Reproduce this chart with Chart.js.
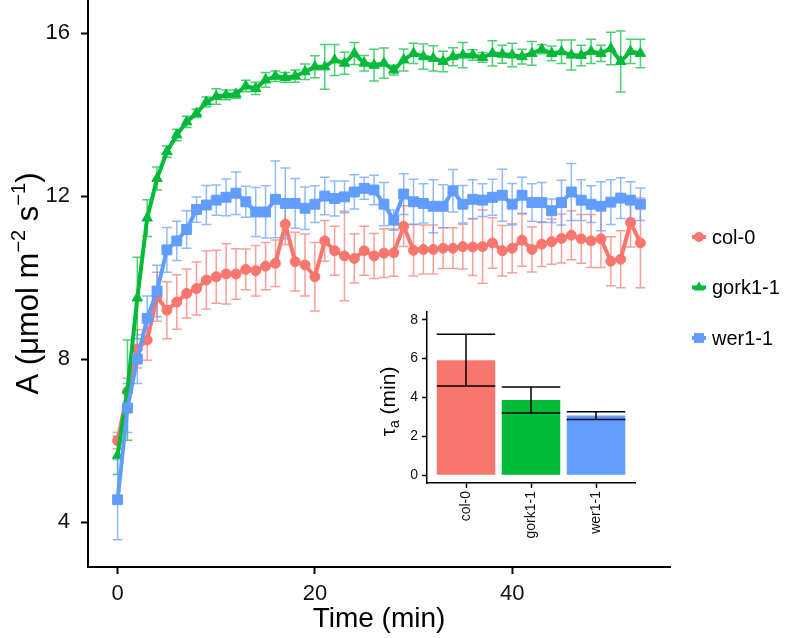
<!DOCTYPE html>
<html>
<head>
<meta charset="utf-8">
<script src="https://cdn.jsdelivr.net/npm/chart.js@4.4.0/dist/chart.umd.min.js"></script>
<style>
  html, body { margin: 0; padding: 0; background: #fff; }
  #wrap { position: relative; width: 789px; height: 638px; }
  #main { position: absolute; left: 0; top: 0; }
  #inset { position: absolute; left: 355px; top: 290px; }
</style>
</head>
<body>
<div id="wrap">
  <canvas id="main" width="789" height="638"></canvas>
  <canvas id="inset" width="290" height="270"></canvas>
</div>
<script>
const FONT = "'Liberation Sans', Arial, sans-serif";

// time points (min)
const minutes = [0,1,2,3,4,5,6,7,8,9,10,11,12,13,14,15,16,17,18,19,20,21,22,23,24,25,26,
  27,28,29,30,31,32,33,34,35,36,37,38,39,40,41,42,43,44,45,46,47,48,49,50,51,52,53];

const col0 = [6.0,7.2,8.25,8.47,9.53,9.2,9.4,9.61,9.73,9.94,10.02,10.09,10.09,10.2,10.17,10.28,10.35,
  11.31,10.39,10.31,10.02,10.9,10.66,10.53,10.47,10.66,10.53,10.6,10.61,11.26,10.67,10.69,10.69,
  10.72,10.72,10.76,10.75,10.76,10.85,10.66,10.72,10.92,10.69,10.82,10.88,10.96,11.04,10.95,10.9,
  10.95,10.4,10.45,11.35,10.85];
const col0Err = [0.2,0.33,0.47,0.5,0.6,0.7,0.67,0.6,0.65,0.71,0.65,0.74,0.62,0.5,0.62,0.58,0.57,
  0.5,0.72,0.76,0.84,0.5,0.6,1.1,0.6,0.6,0.55,0.6,0.58,0.5,0.63,0.6,0.6,0.5,0.5,0.55,0.7,0.9,0.62,
  0.62,0.6,0.64,0.55,0.55,0.55,0.6,0.6,0.6,0.65,0.7,0.6,0.7,0.6,1.1];

const gork = [5.64,7.24,9.5,11.46,12.43,13.09,13.5,13.82,14.03,14.31,14.44,14.48,14.5,14.7,14.64,
  14.85,14.94,14.91,14.94,15.05,15.17,15.17,15.34,15.26,15.5,15.26,15.21,15.26,15.09,15.34,15.5,
  15.42,15.38,15.3,15.42,15.46,15.46,15.4,15.5,15.48,15.46,15.42,15.5,15.6,15.5,15.54,15.46,15.45,
  15.55,15.5,15.62,15.3,15.55,15.5];
const gorkErr = [0.47,1.23,1.0,0.45,0.28,0.14,0.14,0.14,0.1,0.12,0.19,0.12,0.1,0.14,0.15,0.18,0.13,
  0.12,0.15,0.19,0.27,0.55,0.38,0.27,0.27,0.19,0.39,0.37,0.12,0.27,0.25,0.31,0.31,0.25,0.22,0.31,
  0.13,0.12,0.31,0.22,0.29,0.18,0.29,0.11,0.18,0.29,0.37,0.25,0.3,0.2,0.4,0.75,0.3,0.35];

const wer = [4.55,6.8,8.0,9.0,9.67,10.68,10.9,11.18,11.67,11.78,11.9,11.97,12.07,11.86,11.61,11.61,
  11.92,11.82,11.82,11.7,11.8,12.0,11.94,11.98,12.1,12.19,12.15,11.8,11.41,12.05,11.86,11.82,11.75,
  11.75,12.13,11.8,11.92,11.9,11.97,12.02,11.8,12.02,11.84,11.84,11.64,11.84,12.1,11.9,11.8,11.75,
  11.85,11.95,11.9,11.8];
const werErr = [0.98,0.6,0.6,0.55,0.63,0.55,0.48,0.46,0.31,0.48,0.37,0.45,0.52,0.38,0.6,0.64,0.94,
  0.87,0.61,0.52,0.45,0.46,0.43,0.39,0.42,0.27,0.36,0.53,0.25,0.5,0.55,0.48,0.65,0.53,0.52,0.46,0.48,
  0.4,0.44,0.64,0.51,0.44,0.46,0.49,0.29,0.55,0.7,0.5,0.45,0.6,0.55,0.5,0.45,0.4];

const xTicks = [0, 20, 40];
const yTicks = [4, 8, 12, 16];

// inset: tau_a per genotype
const tauLabels = ['col-0', 'gork1-1', 'wer1-1'];
const tauMean = [5.92, 3.87, 3.07];
const tauErr = [1.33, 0.67, 0.2];
const tauTicks = [0, 2, 4, 6, 8];

const RED = '#F8766D', GREEN = '#00BA38', BLUE = '#619CFF';

function rgba(hex, a) {
  const n = parseInt(hex.slice(1), 16);
  return `rgba(${n >> 16},${(n >> 8) & 255},${n & 255},${a})`;
}

// text with super/subscripts, rotated to read bottom-up
function drawRich(ctx, parts, cx, cy, size) {
  const small = Math.round(size * 0.66);
  ctx.save();
  ctx.translate(cx, cy);
  ctx.rotate(-Math.PI / 2);
  let total = 0;
  const widths = parts.map(([t, k]) => {
    ctx.font = (k ? small : size) + 'px ' + FONT;
    const w = ctx.measureText(t).width;
    total += w;
    return w;
  });
  let x = -total / 2;
  ctx.textAlign = 'left';
  ctx.textBaseline = 'alphabetic';
  ctx.fillStyle = '#000';
  const base = size * 0.36;
  parts.forEach(([t, k], i) => {
    ctx.font = (k ? small : size) + 'px ' + FONT;
    const dy = k === 1 ? -size * 0.42 : k === -1 ? size * 0.22 : 0;
    ctx.fillText(t, x, base + dy);
    x += widths[i];
  });
  ctx.restore();
}

function series(label, values, err, color, style, radius, order) {
  return {
    label: label,
    err: err,
    data: values.map((v, i) => ({x: minutes[i], y: v})),
    borderColor: color,
    backgroundColor: color,
    borderWidth: 4,
    pointStyle: style,
    pointRadius: radius,
    pointBorderWidth: 1,
    pointBorderColor: color,
    pointBackgroundColor: color,
    tension: 0,
    order: order
  };
}

const errorBars = {
  id: 'errorBars',
  beforeDatasetsDraw(chart) {
    const ctx = chart.ctx;
    const xs = chart.scales.x, ys = chart.scales.y;
    const half = xs.getPixelForValue(0.5) - xs.getPixelForValue(0);
    ctx.save();
    ctx.lineWidth = 1.5;
    chart.data.datasets.forEach(ds => {
      ctx.strokeStyle = rgba(ds.borderColor, 0.7);
      ds.data.forEach((p, i) => {
        const x = xs.getPixelForValue(p.x);
        const y1 = ys.getPixelForValue(p.y + ds.err[i]);
        const y2 = ys.getPixelForValue(p.y - ds.err[i]);
        ctx.beginPath();
        ctx.moveTo(x, y1); ctx.lineTo(x, y2);
        ctx.moveTo(x - half, y1); ctx.lineTo(x + half, y1);
        ctx.moveTo(x - half, y2); ctx.lineTo(x + half, y2);
        ctx.stroke();
      });
    });
    ctx.restore();
  }
};

const sideLegend = {
  id: 'sideLegend',
  afterDraw(chart) {
    const ctx = chart.ctx;
    const ca = chart.chartArea;
    // y axis title
    drawRich(ctx, [['A (\u03bcmol m', 0], ['\u22122', 1], [' s', 0], ['\u22121', 1], [')', 0]],
      27, (ca.top + ca.bottom) / 2, 31);
    // legend
    ctx.save();
    chart.data.datasets.forEach((ds, i) => {
      const y = 237 + i * 50.5;
      const x = 699;
      ctx.strokeStyle = ds.borderColor;
      ctx.fillStyle = ds.borderColor;
      ctx.lineWidth = 4;
      ctx.beginPath();
      ctx.moveTo(x - 7, y); ctx.lineTo(x + 7, y);
      ctx.stroke();
      Chart.helpers.drawPoint(ctx, {pointStyle: ds.pointStyle, radius: ds.pointRadius, rotation: 0, borderWidth: 0}, x, y);
      ctx.fillStyle = '#000';
      ctx.font = '20px ' + FONT;
      ctx.textAlign = 'left';
      ctx.textBaseline = 'middle';
      ctx.fillText(ds.label, 712, y + 1);
    });
    ctx.restore();
  }
};

const axisStyle = {
  grid: {display: true, drawOnChartArea: false, drawTicks: true, tickLength: 7, tickWidth: 2, tickColor: '#000'},
  border: {display: true, color: '#000', width: 2}
};

new Chart(document.getElementById('main'), {
  type: 'line',
  data: {
    datasets: [
      series('col-0', col0, col0Err, RED, 'circle', 5, 3),
      series('gork1-1', gork, gorkErr, GREEN, 'triangle', 6, 2),
      series('wer1-1', wer, werErr, BLUE, 'rect', 7, 1)
    ]
  },
  options: {
    responsive: false,
    animation: false,
    layout: {autoPadding: false, padding: {top: 0, right: 119, bottom: 0, left: 0}},
    plugins: {legend: {display: false}, tooltip: {enabled: false}},
    scales: {
      x: {
        type: 'linear', min: -3, max: 56,
        afterBuildTicks: s => { s.ticks = xTicks.map(v => ({value: v})); },
        afterFit: s => { s.height = 71; s.paddingLeft = 0; s.paddingRight = 0; },
        ticks: {font: {size: 22, family: FONT}, color: '#111', padding: 7, maxRotation: 0},
        title: {display: true, text: 'Time (min)', color: '#000', font: {size: 28, family: FONT}, padding: {top: 0, bottom: 2}},
        ...axisStyle
      },
      y: {
        type: 'linear', min: 2.9, max: 16.81,
        afterBuildTicks: s => { s.ticks = yTicks.map(v => ({value: v})); },
        afterFit: s => { s.width = 88; s.paddingTop = 0; s.paddingBottom = 0; },
        ticks: {font: {size: 22, family: FONT}, color: '#111', padding: 11},
        ...axisStyle
      }
    }
  },
  plugins: [errorBars, sideLegend]
});

const barErrors = {
  id: 'barErrors',
  afterDatasetsDraw(chart) {
    const ctx = chart.ctx;
    const xs = chart.scales.x, ys = chart.scales.y;
    const half = xs.getPixelForValue(0.45) - xs.getPixelForValue(0);
    ctx.save();
    ctx.strokeStyle = '#000';
    ctx.lineWidth = 1.5;
    tauMean.forEach((m, i) => {
      const x = xs.getPixelForValue(i);
      const y1 = ys.getPixelForValue(m + tauErr[i]);
      const y2 = ys.getPixelForValue(m - tauErr[i]);
      ctx.beginPath();
      ctx.moveTo(x, y1); ctx.lineTo(x, y2);
      ctx.moveTo(x - half, y1); ctx.lineTo(x + half, y1);
      ctx.moveTo(x - half, y2); ctx.lineTo(x + half, y2);
      ctx.stroke();
    });
    const ca = chart.chartArea;
    drawRich(ctx, [['\u03c4', 0], ['a', -1], [' (min)', 0]], 32, (ca.top + ca.bottom) / 2 + 4, 21);
    ctx.restore();
  }
};

const insetAxis = {
  grid: {display: true, drawOnChartArea: false, drawTicks: true, tickLength: 5, tickWidth: 1.5, tickColor: '#000', offset: false},
  border: {display: true, color: '#000', width: 1.5}
};

new Chart(document.getElementById('inset'), {
  type: 'bar',
  data: {
    datasets: [{
      data: tauMean.map((v, i) => ({x: i, y: v})),
      backgroundColor: [RED, GREEN, BLUE],
      borderWidth: 0,
      barPercentage: 0.9,
      categoryPercentage: 1.0
    }]
  },
  options: {
    responsive: false,
    animation: false,
    layout: {padding: {top: 22, right: 10, bottom: 0, left: 0}},
    plugins: {legend: {display: false}, tooltip: {enabled: false}},
    scales: {
      x: {
        type: 'linear', min: -0.6, max: 2.6, offset: false,
        afterBuildTicks: s => { s.ticks = tauLabels.map((t, i) => ({value: i})); },
        afterFit: s => { s.height = 77; s.paddingLeft = 0; s.paddingRight = 0; },
        ticks: {font: {size: 14, family: FONT}, color: '#111', padding: 3, minRotation: 90, maxRotation: 90,
          callback: v => tauLabels[v]},
        ...insetAxis
      },
      y: {
        type: 'linear', min: -0.4, max: 8.4,
        afterBuildTicks: s => { s.ticks = tauTicks.map(v => ({value: v})); },
        afterFit: s => { s.width = 72; s.paddingTop = 0; s.paddingBottom = 0; },
        ticks: {font: {size: 14, family: FONT}, color: '#111', padding: 4},
        ...insetAxis
      }
    }
  },
  plugins: [barErrors]
});
</script>
</body>
</html>
